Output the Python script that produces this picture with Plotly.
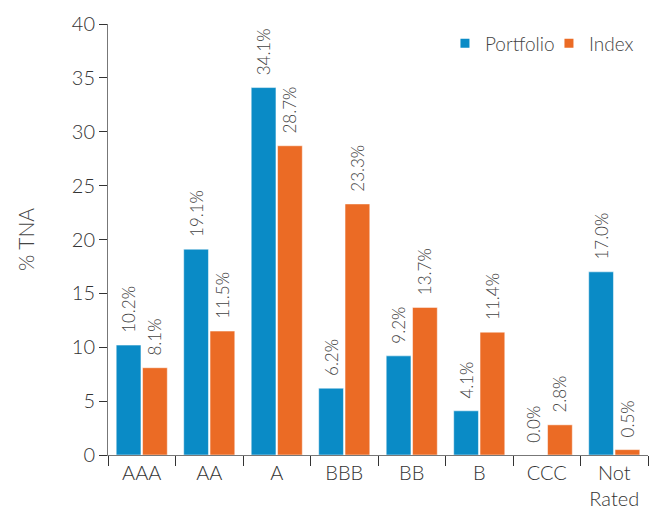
import plotly.graph_objects as go

categories = ["AAA", "AA", "A", "BBB", "BB", "B", "CCC", "Not<br>Rated"]
portfolio = [10.2, 19.1, 34.1, 6.2, 9.2, 4.1, 0.0, 17.0]
index_vals = [8.1, 11.5, 28.7, 23.3, 13.7, 11.4, 2.8, 0.5]

BLUE = "#0a8bc6"
ORANGE = "#eb6b25"
FONT = "Lato"
PAD = "\u00a0\u00a0"  # little gap between bar top and its label

fig = go.Figure()
for name, vals, color in [("Portfolio", portfolio, BLUE), ("Index", index_vals, ORANGE)]:
    fig.add_trace(go.Bar(
        x=categories,
        y=vals,
        name=name,
        marker_color=color,
        text=[f"{PAD}{v:.1f}%" for v in vals],
        textposition="outside",
        textangle=-90,
        constraintext="none",
        textfont=dict(size=17, color="#444", family=FONT, weight=300),
        cliponaxis=False,
        showlegend=False,
    ))
    # legend entry with a small square marker
    fig.add_trace(go.Scatter(
        x=[None], y=[None], mode="markers", name=name,
        marker=dict(symbol="square", size=9, color=color),
    ))

# page body has an 8px margin, so the figure is a bit smaller than the window
fig.update_layout(
    width=651,
    height=501,
    template="simple_white",
    barmode="group",
    bargap=0.22,
    bargroupgap=0.06,
    margin=dict(l=100, r=11, t=16, b=54, autoexpand=False),
    font=dict(family=FONT, size=19, color="#333", weight=300),
    legend=dict(
        orientation="h",
        x=0.624, xanchor="left",
        y=0.955, yanchor="middle",
        font=dict(size=19, color="#444", weight=300),
        itemwidth=30,
        entrywidth=59,
        traceorder="normal",
    ),
)
fig.update_yaxes(
    range=[0, 40],
    dtick=5,
    ticks="outside",
    ticklen=8,
    linecolor="#777",
    tickcolor="#333",
    automargin=False,
    title=dict(text="% TNA", standoff=31, font=dict(size=21, color="#444", weight=300)),
    tickfont=dict(size=20, color="#333", weight=300),
)
fig.update_xaxes(
    tickson="boundaries",
    ticks="outside",
    ticklen=10,
    linecolor="#777",
    tickcolor="#333",
    automargin=False,
    tickfont=dict(size=20, color="#333", weight=300),
)

fig.write_html("out.html")
